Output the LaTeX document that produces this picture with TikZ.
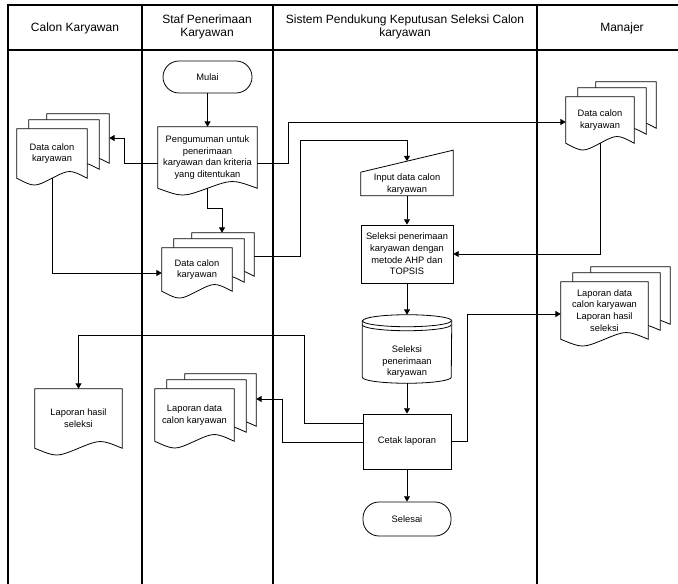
\documentclass[tikz,border=0pt]{standalone}
\usepackage{fontspec}
\setmainfont{Liberation Sans}
\usetikzlibrary{calc}
\usetikzlibrary{arrows.meta}
\newdimen\pxu \pxu=0.75pt
\pgfdeclarelayer{bg}
\pgfsetlayers{bg,main}
\tikzset{ lane/.style = {line width=0.9pt} }
\tikzset{ head/.style = {font=\fontsize{9}{9.8}\selectfont, align=center} }
\tikzset{ txt/.style = {font=\fontsize{7}{8.8}\selectfont, align=center, inner sep=1pt} }
\tikzset{ shp/.style = {draw, fill=white, line width=0.6pt} }
\tikzset{ proc/.style = {rectangle, draw, line width=0.6pt, txt} }
\tikzset{ term/.style = {proc, rounded corners=12pt} }
\tikzset{ docbox/.style = {rectangle, txt} }
\tikzset{ flow/.style = {line width=0.6pt, -{Triangle[length=4pt,width=4.5pt]}} }
% document outline: node, left dx, right dx, dy (in px)
\newcommand\docpath[4]{($(#1.north west)+(#2,#4)$) -- ($(#1.north east)+(#3,#4)$) -- ($(#1.south east)+(#3,#4)$)
  .. controls ($(#1.south east)!0.5!(#1.south)+(#3,#4)+(0,-9)$) .. ($(#1.south)+({(#2+#3)/2},#4)$)
  .. controls ($(#1.south west)!0.5!(#1.south)+(#2,#4)+(0,9)$) .. ($(#1.south west)+(#2,#4)$) -- cycle}

\begin{document}
\begin{tikzpicture}[x=0.75pt, y=-0.75pt]
\useasboundingbox (0,0) rectangle (678,584);
\clip (0,0) rectangle (678,584);

% lanes
\draw[lane] (8,5) rectangle (707,600);
\draw[lane] (8,50) -- (707,50);
\foreach \x in {142,273,537} \draw[lane] (\x,5) -- (\x,600);
\node[head] (hcalon) at (75,28) {Calon Karyawan};
\node[head] (hstaf) at (207,27) {Staf Penerimaan\\Karyawan};
\node[head] (hspk) at (405,27) {Sistem Pendukung Keputusan Seleksi Calon\\karyawan};
\node[head] (hmgr) at (622,28) {Manajer};

% shapes
\node[term, minimum width=89\pxu, minimum height=32\pxu] (mulai) at (207.5,77) {Mulai};
\node[docbox, minimum width=99\pxu, minimum height=61\pxu] (umum) at (207.5,157.5) {Pengumuman untuk\\penerimaan\\karyawan dan kriteria\\yang ditentukan};
\node[docbox, minimum width=70\pxu, minimum height=49\pxu] (mdcalon) at (52,153.5) {Data calon\\karyawan};
\node[docbox, minimum width=70\pxu, minimum height=43\pxu] (mdstaf) at (197,269.5) {Data calon\\karyawan};
\node[docbox, minimum width=68\pxu, minimum height=46\pxu] (mdmgr) at (600,120) {Data calon\\karyawan};
\node[docbox, minimum width=92\pxu, minimum height=22\pxu] (input) at (407,184) {Input data calon\\karyawan};
\node[proc, minimum width=92\pxu, minimum height=58\pxu] (seleksi) at (407,254) {Seleksi penerimaan\\karyawan dengan\\metode AHP dan\\TOPSIS};
\node[docbox, minimum width=87\pxu, minimum height=57\pxu] (mdlapmgr) at (604.5,310.5) {Laporan data\\calon karyawan\\Laporan hasil\\seleksi};
\node[docbox, minimum width=89\pxu, minimum height=68\pxu] (db) at (407,349) {};
\node[txt] (dbtxt) at ([yshift=-9.5pt]db.center) {Seleksi\\penerimaan\\karyawan};
\node[docbox, minimum width=87\pxu, minimum height=59\pxu] (laphasil) at (78.5,418.5) {Laporan hasil\\seleksi};
\node[docbox, minimum width=79\pxu, minimum height=52\pxu] (mdlapstaf) at (194.5,415) {Laporan data\\calon karyawan};
\node[proc, minimum width=88\pxu, minimum height=55\pxu] (cetak) at (407,441.5) {Cetak laporan};
\node[term, minimum width=88\pxu, minimum height=34\pxu] (selesai) at (407,519) {Selesai};
\coordinate (inputtop) at ($(input.north)+(0,-11)$);

\begin{pgfonlayer}{bg}
\foreach \n in {mdcalon,mdstaf,mdmgr,mdlapmgr,mdlapstaf} {
  \draw[shp] \docpath{\n}{30}{22}{-15};
  \draw[shp] \docpath{\n}{12}{12}{-9};
  \draw[shp] \docpath{\n}{0}{0}{0};
}
\foreach \n in {umum,laphasil} \draw[shp] \docpath{\n}{0}{0}{0};
\draw[shp] (input.south west) -- (input.north west) -- ($(input.north east)+(0,-22)$) -- (input.south east) -- cycle;
% data store
\draw[shp] ([yshift=-4.5pt]db.north west) -- ([yshift=4.5pt]db.south west)
  arc[start angle=180, end angle=360, x radius=44.5\pxu, y radius=4.5pt]
  -- ([yshift=-4.5pt]db.north east)
  arc[start angle=0, end angle=180, x radius=44.5\pxu, y radius=4.5pt] -- cycle;
\draw[line width=0.6pt] ([yshift=-4.5pt]db.north west) arc[start angle=180, end angle=360, x radius=44.5\pxu, y radius=4.5pt];
\draw[line width=0.6pt] ([yshift=-7.5pt]db.north west) arc[start angle=180, end angle=360, x radius=44.5\pxu, y radius=4.5pt];
\end{pgfonlayer}

% connectors
\draw[flow] (mulai) -- (umum);
\draw[flow] (umum.west |- 0,163) -| (124,138) -- ($(mdcalon.east)+(22,-15.5)$);
\draw[flow] (umum.east |- 0,163) -| (288,122) -- (mdmgr.west |- 0,122);
\draw[flow] (umum.south) |- (222,208) -- ($(mdstaf.north)+(25,-15)$);
\draw[flow] (mdcalon.south) |- (mdstaf.west |- 0,273);
\draw[flow] ($(mdstaf.east)+(22,-13.5)$) -| (300,140) -| (inputtop);
\draw[flow] (input) -- (seleksi);
\draw[flow] (mdmgr.south) |- (seleksi.east);
\draw[flow] (seleksi) -- (db);
\draw[flow] (db) -- (cetak);
\draw[flow] (cetak) -- (selesai);
\draw[flow] (cetak.west |- 0,423) -| (304,335) -| (laphasil.north);
\draw[flow] (cetak.west |- 0,442) -| (282,399) -- ($(mdlapstaf.east)+(22,-16)$);
\draw[flow] (cetak.east) -| (467,314) -- (mdlapmgr.west |- 0,314);
\end{tikzpicture}
\end{document}
